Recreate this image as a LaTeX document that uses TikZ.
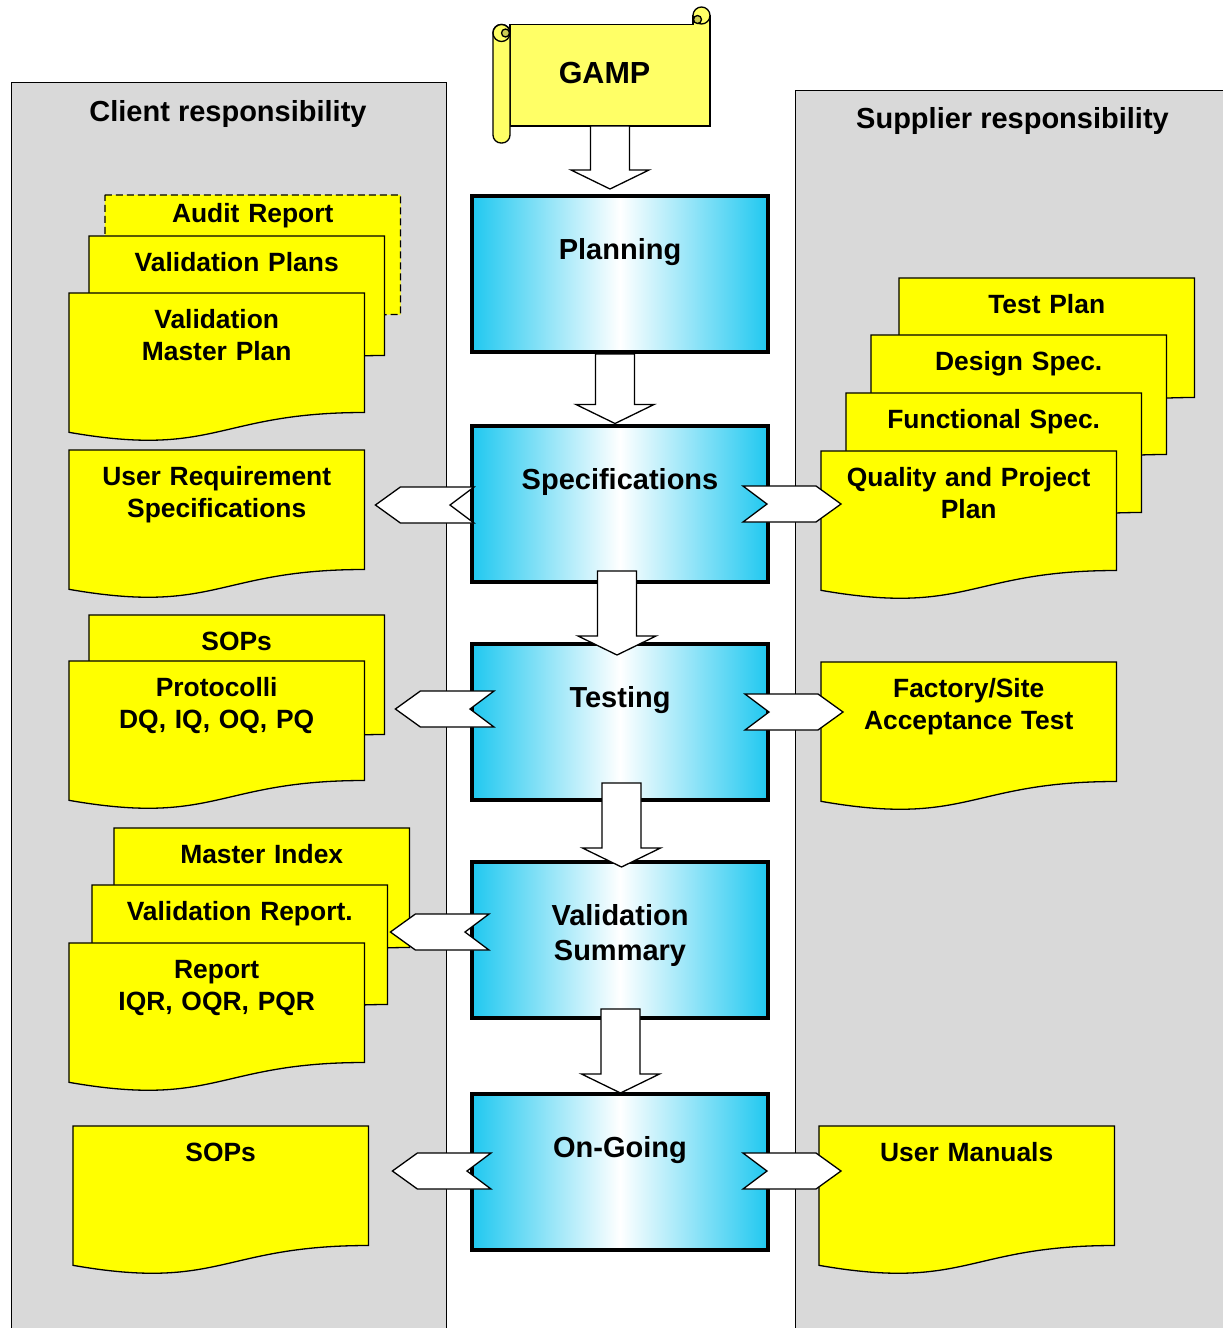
\documentclass[tikz,border=0pt]{standalone}
\usepackage{fontspec}
\setmainfont{Liberation Sans}
\usepackage{tikz}
\usetikzlibrary{calc}
\definecolor{docyellow}{RGB}{255,255,0}
\definecolor{scrollyellow}{RGB}{255,255,102}
\definecolor{scrolldark}{RGB}{204,204,82}
\definecolor{panelgray}{RGB}{217,217,217}
\definecolor{proccyan}{RGB}{32,200,240}
\tikzset{%
  panel/.style = {rectangle, draw = black, line width = 1, fill = panelgray, anchor = north west, inner sep = 0},
  title/.style = {anchor = base, font = \fontsize{29}{35}\selectfont\bfseries},
  proc/.style = {rectangle, draw = black, line width = 4, inner sep = 0, text width = 296, align = center,
    text height = 63.5, text depth = 92.5, left color = proccyan, right color = proccyan, middle color = white,
    font = \fontsize{29}{35}\selectfont\bfseries},
  docborder/.style = {draw = black, line width = 1.3},
  doc/.style = {rectangle, anchor = north west, inner sep = 0, text width = 297, align = center,
    text height = 36.5, text depth = 113.5, font = \fontsize{26.4}{32}\selectfont\bfseries,
    path picture = {
      \draw[docborder, fill = docyellow] let \p1 = (path picture bounding box.north west), \p2 = (path picture bounding box.south east) in
        (\x1+0.7pt,\y1-0.7pt) -- (\x2-0.7pt,\y1-0.7pt) -- (\x2-0.7pt,\y1-120.3pt)
        .. controls ({(\x1+\x2)/2},\y1-120.3pt) and ({(\x1+\x2)/2},\y1-166pt) .. (\x1+0.7pt,\y1-140.1pt) -- cycle;
    }},
  chevL/.style = {draw = black, fill = white, line width = 1.3,
    to path = {let \p1 = (\tikztostart), \p2 = (\tikztotarget) in
      (\x1,\y1+18pt) -- (\x1-24pt,\y1) -- (\x1,\y1-18pt) -- (\x2+25pt,\y1-18pt) -- (\x2,\y1) -- (\x2+25pt,\y1+18pt) -- cycle}},
  chevR/.style = {draw = black, fill = white, line width = 1.3,
    to path = {let \p1 = (\tikztostart), \p2 = (\tikztotarget) in
      (\x1,\y1+18pt) -- (\x1+24pt,\y1) -- (\x1,\y1-18pt) -- (\x2-25pt,\y1-18pt) -- (\x2,\y1) -- (\x2-25pt,\y1+18pt) -- cycle}},
  blockdown/.style = {draw = black, fill = white, line width = 1.3,
    to path = {let \p1 = (\tikztostart), \p2 = (\tikztotarget) in
      (\x1-19.5pt,\y1) -- (\x1-19.5pt,\y2+19pt) -- (\x1-39pt,\y2+19pt) -- (\x1,\y2)
      -- (\x1+39pt,\y2+19pt) -- (\x1+19.5pt,\y2+19pt) -- (\x1+19.5pt,\y1) -- cycle}},
  scroll/.style = {draw = black, line width = 1.3, fill = scrollyellow}
}
\begin{document}
\begin{tikzpicture}[x = 1pt, y = -1pt]
  \fill[white] (0,0) rectangle (1223,1328);
  \useasboundingbox (0,0) rectangle (1223,1328);

  % responsibility panels
  \node[panel, minimum width = 435, minimum height = 1260] (client) at (11,82) {};
  \node[panel, minimum width = 440, minimum height = 1250] (supplier) at (795,90) {};
  \node[title] (clienttitle) at (228,121) {Client responsibility};
  \node[title] (suppliertitle) at (1012.5,128) {Supplier responsibility};

  % GAMP scroll
  \draw[scroll] (510,24.5) -- (693,24.5) -- (693,15.5) -- (710,15.5) -- (710,126) -- (510,126) -- cycle;
  \draw[scroll] (701.5,15.5) circle (8.5pt);
  \draw[scroll, fill = scrolldark] (697.5,19.5) circle (4pt);
  \draw[scroll, rounded corners = 8] (493,24.5) rectangle (510,143);
  \draw[scroll] (501.5,33) circle (8.5pt);
  \draw[scroll, fill = scrolldark] (505.5,33) circle (4pt);
  \node[anchor = base, font = \fontsize{30.5}{36}\selectfont\bfseries] (gamp) at (604.5,83) {GAMP};
  \coordinate (gampfoot) at (610,126);

  % process steps
  \node[proc] (plan) at (620,274) {Planning};
  \node[proc] (spec) at (620,503.5) {Specifications};
  \node[proc] (test) at (620,722) {Testing};
  \node[proc] (vsum) at (620,940) {Validation\\Summary};
  \node[proc] (ongo) at (620,1172) {On-Going};

  % client documents
  \node[doc, text height = 28, text depth = 122, docborder/.style = {draw = black, line width = 1.3, dash pattern = on 7pt off 4pt}] (audit) at (104,194) {Audit Report};
  \node[doc] (vplans) at (88,235) {Validation Plans};
  \node[doc] (vmp) at (68,292) {Validation\\Master Plan};
  \node[doc] (urs) at (68,449) {User Requirement\\Specifications};
  \node[doc] (sops) at (88,614) {SOPs};
  \node[doc] (proto) at (68,660) {Protocolli\\DQ, IQ, OQ, PQ};
  \node[doc] (mindex) at (113,827) {Master Index};
  \node[doc] (vrep) at (91,884) {Validation Report.};
  \node[doc] (rep) at (68,942) {Report\\IQR, OQR, PQR};
  \node[doc] (sops2) at (72,1125) {SOPs};

  % supplier documents
  \node[doc] (tplan) at (898,277) {Test Plan};
  \node[doc] (dspec) at (870,334) {Design Spec.};
  \node[doc] (fspec) at (845,392) {Functional Spec.};
  \node[doc] (qpp) at (820,450) {Quality and Project\\Plan};
  \node[doc] (fat) at (820,661) {Factory/Site\\Acceptance Test};
  \node[doc] (um) at (818,1125) {User Manuals};

  % outputs to the two sides
  \draw[chevL] ([shift = {(4,1.5)}]spec.west) to ([shift = {(10,0)}]urs.east);
  \draw[chevR] ([shift = {(-27,0.5)}]spec.east) to ([shift = {(21,0)}]qpp.west);
  \draw[chevL] ([shift = {(24,-13)}]test.west) to ([shift = {(30,0)}]proto.east);
  \draw[chevR] ([shift = {(-25,-10)}]test.east) to ([shift = {(23,0)}]fat.west);
  \draw[chevL] ([shift = {(19,-8)}]vsum.west) to ([shift = {(2,0)}]vrep.east);
  \draw[chevL] ([shift = {(21,-1)}]ongo.west) to ([shift = {(23,0)}]sops2.east);
  \draw[chevR] ([shift = {(-27,-1)}]ongo.east) to ([shift = {(23,0)}]um.west);

  % flow between steps
  \draw[blockdown] (gampfoot) to ([shift = {(-10,-5)}]plan.north);
  \draw[blockdown] ([shift = {(-5,0)}]plan.south) to ([shift = {(-5,0)}]spec.north);
  \draw[blockdown] ([shift = {(-3,-12.5)}]spec.south) to ([shift = {(-3,13)}]test.north);
  \draw[blockdown] ([shift = {(1.5,-19)}]test.south) to ([shift = {(1.5,7)}]vsum.north);
  \draw[blockdown] ([shift = {(0.5,-11)}]vsum.south) to ([shift = {(0.5,1)}]ongo.north);
\end{tikzpicture}
\end{document}
